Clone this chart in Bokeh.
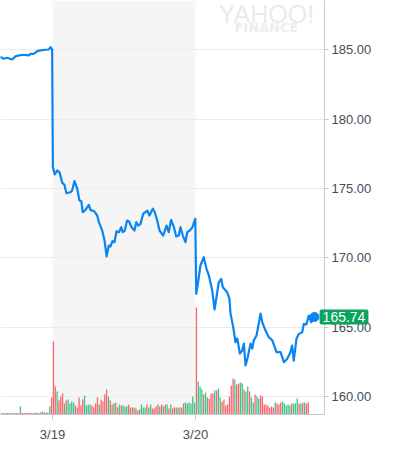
from bokeh.plotting import figure
from bokeh.models import ColumnDataSource, Range1d, FixedTicker, BoxAnnotation, Label, PrintfTickFormatter
from bokeh.embed import file_html
from bokeh.resources import INLINE

# ---- data (x = position in 5-minute bars, 0 = 3/19 open, 78 = 3/20 open) ----
day_ticks = [0, 78]
day_labels = ["3/19", "3/20"]
price_ticks = [160, 165, 170, 175, 180, 185]

price_x = [-30, -28.4, -26.6, -24.7, -22.0, -20.2, -18.4, -15.7, -12.9, -12.0, -10.2, -8.3, -6.5, -3.8, -2.0, -1.1, -0.2,
           0.2, 1.25, 2.56, 3.8, 5.3, 6.5, 7.6, 9.8, 10.7, 12.0, 13.5, 14.7, 15.7, 16.5, 18.0, 19.8, 20.7, 22.9, 24.4,
           25.3, 27.1, 28.4, 29.5, 30.7, 31.6, 32.7, 33.8, 34.9, 36.2, 37.5, 38.3, 39.4, 40.7, 41.8, 42.9, 44.7, 45.7,
           46.8, 48.0, 49.5, 50.7, 51.7, 52.9, 54.7, 55.8, 57.1, 58.4, 60.4, 62.2, 63.4, 64.7, 66.2, 67.5, 68.9, 69.8,
           71.1, 72.5, 73.5, 74.9, 76.2, 77.5, 77.9,
           78.4, 79.3, 80.7, 82.5, 84.0, 85.3, 87.1, 88.4, 90.7, 92.0, 92.9, 95.3, 96.5, 97.1, 98.6, 99.8, 100.8, 102.2,
           103.5, 104.4, 105.3, 106.5, 108.0, 109.0, 109.8, 111.3, 113.5, 114.4, 116.2, 118.0, 119.9, 122.2, 124.4,
           126.2, 128.0, 129.8, 130.7, 131.6, 133.1, 134.4, 136.2, 137.1, 138.5, 139.8, 141.1, 142.9]
price = [184.48, 184.47, 184.35, 184.42, 184.30, 184.52, 184.59, 184.64, 184.59, 184.71, 184.71, 184.90, 184.95, 185.00,
         185.02, 185.19, 185.02,
         176.54, 176.01, 176.30, 176.18, 175.41, 175.27, 174.66, 174.73, 174.86, 175.53, 174.98, 174.13, 174.08, 173.29,
         173.46, 173.82, 173.46, 173.34, 173.05, 172.57, 171.97, 171.25, 170.10, 170.89, 170.82, 171.20, 171.13, 171.92,
         171.85, 172.21, 171.85, 171.97, 172.69, 172.62, 172.26, 171.97, 172.57, 172.33, 172.45, 173.18, 173.29, 173.41,
         173.05, 173.54, 173.29, 172.69, 171.97, 171.61, 172.33, 171.85, 172.74, 172.21, 171.54, 171.61, 172.21, 171.61,
         171.13, 171.85, 171.97, 172.17, 172.69, 172.81,
         167.41, 168.15, 169.45, 170.05, 169.21, 168.73, 167.65, 166.28, 168.24, 168.49, 167.88, 167.52, 167.07, 166.00,
         165.00, 163.92, 164.19, 163.10, 163.32, 163.82, 162.24, 162.84, 163.82, 163.46, 164.05, 164.40, 165.99, 165.36,
         164.76, 164.28, 164.05, 163.20, 163.20, 162.48, 162.72, 163.20, 163.68, 162.60, 164.19, 164.52, 164.64, 165.25,
         165.20, 165.84, 165.36, 165.74]
last_price = 165.74

vol_start = -29  # bar index of first volume bar
volume_k = [280, 100, 110, 100, 110, 100, 110, 100, 110, 100, 110, 560, 100, 110, 100, 110, 100, 110, 100, 110, 140,
            100, 140, 210, 140, 140, 140, 560, 1190,
            5110, 1960, 1610, 980, 1260, 1470, 770, 980, 1050, 770, 910, 840, 630, 490, 1190, 630, 1050, 1330, 630, 700,
            700, 630, 490, 770, 1190, 700, 1050, 910, 1400, 1750, 1260, 980, 700, 770, 840, 490, 700, 630, 630, 560,
            560, 700, 490, 490, 490, 420, 280, 350, 700, 490, 490, 700, 490, 700, 420, 420, 560, 700, 560, 700, 560,
            700, 700, 420, 700, 420, 490, 490, 490, 490, 490, 770, 840, 770, 840, 770, 1260, 840,
            7490, 2310, 1960, 1750, 1400, 1540, 1190, 1120, 1470, 1470, 1680, 1680, 1820, 1190, 910, 1050, 630, 700,
            1260, 2030, 2520, 2450, 2100, 2170, 2240, 2170, 1750, 1610, 1960, 1610, 1190, 840, 1400, 1260, 1120, 1330,
            1260, 700, 700, 630, 490, 560, 490, 840, 770, 700, 840, 910, 770, 630, 700, 630, 770, 770, 770, 1120, 770,
            770, 840, 840, 770, 840, 910, 420]
vol_dir = list("GRGRRGRRGRRGRRGRRRGRGRGRGGRGR"
               "RRGRRRGRGGGGRRRRRGGGGRRRRGRRRRGRGRGRGRGGGRRGRRGRGGGRGGRRRRGRGRGRGRRGRGRRGGGGGG"
               "RGGGRGGRRRGRGGRRRRRRRGRRGGRGGRGGRGGRRRRRRRRGRRRGGGGGRGGGRGRGRR")

# ---- derived ----
vol_x = [vol_start + i + 0.5 for i in range(len(volume_k))]
vol_color = ["#3ec48b" if d == "G" else "#f9646f" for d in vol_dir[:len(volume_k)]]

x_lo, x_hi = -28.37, 148.37
y_lo, y_hi = 158.71, 188.55

p = figure(frame_width=324, frame_height=414,
           min_border_left=0, min_border_top=0, min_border_right=69, min_border_bottom=39,
           x_range=Range1d(x_lo, x_hi), y_range=Range1d(y_lo, y_hi),
           y_axis_location="right", output_backend="svg", toolbar_location=None, tools="")
p.extra_y_ranges = {"vol": Range1d(0, 28980)}
p.outline_line_color = None
p.background_fill_color = "white"
p.border_fill_color = "white"

# shaded session
p.add_layout(BoxAnnotation(left=day_ticks[0], right=day_ticks[1], fill_color="#f5f5f5", fill_alpha=1.0,
                           line_color=None, level="image"))

# grid
p.xgrid.grid_line_color = None
p.ygrid.ticker = FixedTicker(ticks=price_ticks)
p.ygrid.grid_line_color = "#ebebeb"
p.ygrid.grid_line_width = 1

# watermark
p.add_layout(Label(x=116.7, y=187.56, text="YAHOO!", text_align="center", text_baseline="alphabetic",
                   text_font="Liberation Sans", text_font_size="25px", text_color="#ebebeb"))
p.add_layout(Label(x=116.7, y=186.61, text="FINANCE", text_align="center", text_baseline="alphabetic",
                   text_font="DejaVu Sans", text_font_size="13px", text_font_style="bold", text_color="#ededed"))

# volume
vsrc = ColumnDataSource(dict(x=vol_x, top=volume_k, color=vol_color))
p.vbar(x="x", top="top", bottom=0, width=0.72, color="color", line_color=None, source=vsrc, y_range_name="vol")

# price line
psrc = ColumnDataSource(dict(x=price_x, y=price))
p.line("x", "y", source=psrc, line_color="#0a84f0", line_width=2.2, line_join="round")
p.scatter([price_x[-1]], [last_price], size=9, color="#0a84f0")

# axes
ya = p.yaxis[0]
ya.ticker = FixedTicker(ticks=price_ticks)
ya.formatter = PrintfTickFormatter(format="%.2f")
ya.axis_line_color = "#c7c7c7"
ya.major_tick_line_color = "#c7c7c7"
ya.major_tick_out = 4
ya.major_tick_in = 0
ya.minor_tick_line_color = None
ya.major_label_standoff = 3
ya.major_label_text_font = "Liberation Sans"
ya.major_label_text_font_size = "13px"
ya.major_label_text_color = "#464e56"

xa = p.xaxis[0]
xa.ticker = FixedTicker(ticks=day_ticks)
xa.major_label_overrides = {t: l for t, l in zip(day_ticks, day_labels)}
xa.axis_line_color = "#c7c7c7"
xa.major_tick_line_color = "#c7c7c7"
xa.major_tick_out = 5
xa.major_tick_in = 0
xa.minor_tick_line_color = None
xa.major_label_standoff = 7
xa.major_label_text_font = "Liberation Sans"
xa.major_label_text_font_size = "13px"
xa.major_label_text_color = "#464e56"

# last price tag (in the right side panel so it is not clipped to the frame)
p.add_layout(Label(x=-30.5, y=last_price, x_units="screen", y_units="data", text=f"{last_price:.2f}",
                   text_align="center", text_baseline="middle",
                   text_font="Liberation Sans", text_font_size="14px", text_color="white",
                   background_fill_color="#0ba360", padding=dict(left=3, right=3, top=3, bottom=2),
                   border_radius=2), "right")

html = file_html(p, INLINE)
html = html.replace("<head>", "<head><style>html,body{margin:0;padding:0;overflow:hidden;}</style>", 1)
open("out.html", "w").write(html)
